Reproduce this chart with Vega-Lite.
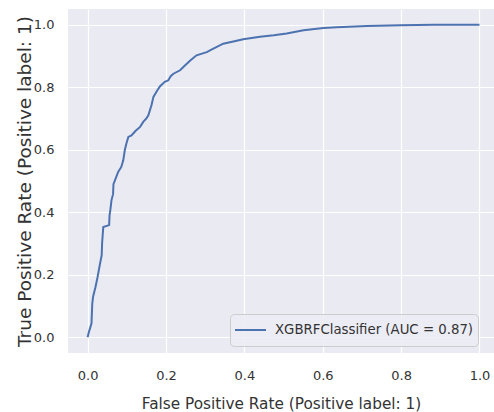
{
  "$schema": "https://vega.github.io/schema/vega-lite/v6.json",
  "autosize": "none",
  "width": 426,
  "height": 344,
  "padding": {"left": 68, "top": 9, "right": 0, "bottom": 59},
  "background": "white",
  "config": {
    "font": "DejaVu Sans",
    "view": {"fill": "#EAEAF2", "stroke": null},
    "axis": {
      "domain": false,
      "ticks": false,
      "grid": true,
      "gridColor": "white",
      "gridWidth": 1.2,
      "labelFont": "DejaVu Sans",
      "labelFontSize": 13,
      "labelColor": "#333333",
      "titleFont": "DejaVu Sans",
      "titleFontWeight": "normal",
      "titleColor": "#333333"
    }
  },
  "data": {
    "values": [
      {"fpr": 0.0, "tpr": 0.0},
      {"fpr": 0.004, "tpr": 0.02},
      {"fpr": 0.01, "tpr": 0.045},
      {"fpr": 0.011, "tpr": 0.08},
      {"fpr": 0.012, "tpr": 0.109},
      {"fpr": 0.014, "tpr": 0.13},
      {"fpr": 0.02, "tpr": 0.16},
      {"fpr": 0.025, "tpr": 0.19},
      {"fpr": 0.031, "tpr": 0.231},
      {"fpr": 0.036, "tpr": 0.263},
      {"fpr": 0.037, "tpr": 0.3},
      {"fpr": 0.04, "tpr": 0.353},
      {"fpr": 0.055, "tpr": 0.359},
      {"fpr": 0.056, "tpr": 0.39},
      {"fpr": 0.058, "tpr": 0.407},
      {"fpr": 0.061, "tpr": 0.439},
      {"fpr": 0.065, "tpr": 0.458},
      {"fpr": 0.066, "tpr": 0.49},
      {"fpr": 0.07, "tpr": 0.503},
      {"fpr": 0.078, "tpr": 0.529},
      {"fpr": 0.086, "tpr": 0.545},
      {"fpr": 0.091, "tpr": 0.566},
      {"fpr": 0.095, "tpr": 0.599},
      {"fpr": 0.099, "tpr": 0.62},
      {"fpr": 0.104, "tpr": 0.641},
      {"fpr": 0.112, "tpr": 0.646},
      {"fpr": 0.122, "tpr": 0.66},
      {"fpr": 0.134, "tpr": 0.673},
      {"fpr": 0.142, "tpr": 0.689},
      {"fpr": 0.15, "tpr": 0.7},
      {"fpr": 0.155, "tpr": 0.71},
      {"fpr": 0.16, "tpr": 0.73},
      {"fpr": 0.163, "tpr": 0.742},
      {"fpr": 0.168, "tpr": 0.769},
      {"fpr": 0.178, "tpr": 0.79},
      {"fpr": 0.185, "tpr": 0.803},
      {"fpr": 0.197, "tpr": 0.817},
      {"fpr": 0.206, "tpr": 0.822},
      {"fpr": 0.212, "tpr": 0.835},
      {"fpr": 0.219, "tpr": 0.843},
      {"fpr": 0.236, "tpr": 0.854},
      {"fpr": 0.249, "tpr": 0.87},
      {"fpr": 0.262, "tpr": 0.885},
      {"fpr": 0.278, "tpr": 0.902},
      {"fpr": 0.304, "tpr": 0.912},
      {"fpr": 0.321, "tpr": 0.923},
      {"fpr": 0.346, "tpr": 0.939},
      {"fpr": 0.372, "tpr": 0.946},
      {"fpr": 0.397, "tpr": 0.953},
      {"fpr": 0.44, "tpr": 0.961},
      {"fpr": 0.475, "tpr": 0.966},
      {"fpr": 0.508, "tpr": 0.972},
      {"fpr": 0.551, "tpr": 0.982},
      {"fpr": 0.602, "tpr": 0.989},
      {"fpr": 0.636, "tpr": 0.992},
      {"fpr": 0.713, "tpr": 0.996},
      {"fpr": 0.798, "tpr": 0.998},
      {"fpr": 0.883, "tpr": 1.0},
      {"fpr": 1.0, "tpr": 1.0}
    ]
  },
  "mark": {"type": "line", "strokeWidth": 2, "clip": true},
  "encoding": {
    "x": {
      "field": "fpr",
      "type": "quantitative",
      "scale": {"domain": [-0.05, 1.037], "nice": false, "zero": false},
      "axis": {
        "title": "False Positive Rate (Positive label: 1)",
        "values": [0, 0.2, 0.4, 0.6, 0.8, 1.0],
        "format": ".1f",
        "labelPadding": 16,
        "titleFontSize": 15.3,
        "titlePadding": 14
      }
    },
    "y": {
      "field": "tpr",
      "type": "quantitative",
      "scale": {"domain": [-0.05, 1.05], "nice": false, "zero": false},
      "axis": {
        "title": "True Positive Rate (Positive label: 1)",
        "values": [0, 0.2, 0.4, 0.6, 0.8, 1.0],
        "format": ".1f",
        "labelPadding": 14,
        "titleFontSize": 18.5,
        "titlePadding": -1
      }
    },
    "order": {"field": "fpr", "type": "quantitative"},
    "color": {
      "datum": "XGBRFClassifier (AUC = 0.87)",
      "type": "nominal",
      "scale": {"range": ["#4C72B0"]},
      "legend": {
        "title": null,
        "orient": "none",
        "legendX": 162,
        "legendY": 305,
        "padding": 4,
        "clipHeight": 24,
        "fillColor": "rgba(236,236,244,0.85)",
        "strokeColor": "#cccccc",
        "cornerRadius": 4,
        "symbolType": "stroke",
        "symbolSize": 961,
        "symbolStrokeWidth": 2,
        "labelFont": "DejaVu Sans",
        "labelFontSize": 13.3,
        "labelColor": "#333333",
        "labelOffset": 8,
        "labelLimit": 400
      }
    }
  }
}
